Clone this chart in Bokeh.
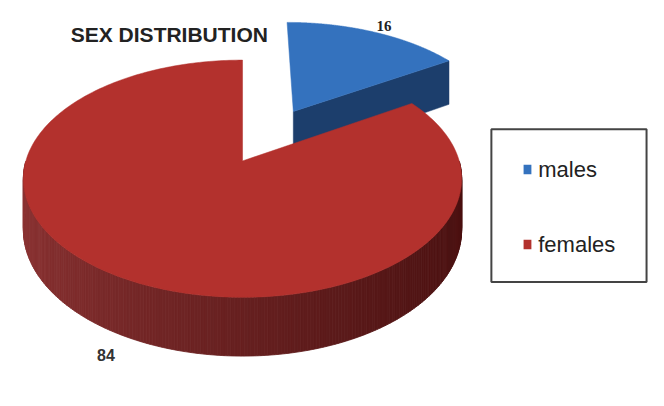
import numpy as np
from bokeh.plotting import figure
from bokeh.models import Range1d
from bokeh.embed import file_html
from bokeh.resources import INLINE
from bokeh.core.properties import value

# ---- data ----
categories = ["males", "females"]
values = [16, 84]
top_colors = ["#3472BE", "#B3312D"]
side_colors = ["#1C3E6C", "#801E1D"]
explode = [0.52, 0.0]
title_text = "SEX DISTRIBUTION"

# ---- 3D pie geometry (screen-like coordinates, y down) ----
CX, CY = 248.0, 167.0
R = 222.0
RC = 120.7
K = 0.15
H = 52.0


def proj(X, Y, z):
    X = np.asarray(X, dtype=float)
    Y = np.asarray(Y, dtype=float)
    w = 1.0 / (1.0 + K * Y)
    return CX + R * X * w, CY - RC * Y * w + H * z * w


def mix(c1, c2, t):
    a = [int(c1[i:i + 2], 16) for i in (1, 3, 5)]
    b = [int(c2[i:i + 2], 16) for i in (1, 3, 5)]
    return "#%02x%02x%02x" % tuple(int(round(a[k] + (b[k] - a[k]) * t)) for k in range(3))


p = figure(width=648, height=390, output_backend="svg", toolbar_location=None,
           x_range=Range1d(0, 664), y_range=Range1d(406, 0), min_border=0)
p.axis.visible = False
p.grid.visible = False
p.outline_line_color = None

total = float(sum(values))
slices = []
start = 90.0
for i, v in enumerate(values):
    sweep = 360.0 * v / total
    a0, a1 = start, start - sweep
    mid = np.radians((a0 + a1) / 2)
    ox, oy = explode[i] * np.cos(mid), explode[i] * np.sin(mid)
    slices.append(dict(i=i, a0=a0, a1=a1, ox=ox, oy=oy, depth=np.sin(mid)))
    start = a1

# draw back slices first
for s in sorted(slices, key=lambda d: -d["depth"]):
    i, a0, a1, ox, oy = s["i"], s["a0"], s["a1"], s["ox"], s["oy"]
    # radial cut faces
    for ang, sign in ((a1, 1), (a0, -1)):
        r = np.radians(ang)
        if sign * np.cos(r) > 0.01:
            Xs = [ox, ox + np.cos(r), ox + np.cos(r), ox]
            Ys = [oy, oy + np.sin(r), oy + np.sin(r), oy]
            zs = [0, 0, 1, 1]
            px, py = zip(*[proj(X, Y, z) for X, Y, z in zip(Xs, Ys, zs)])
            p.patch([float(a) for a in px], [float(b) for b in py],
                    fill_color=side_colors[i], line_color=side_colors[i], line_width=0.5)
    # outer rim (front-facing part) as shaded strips
    th = np.linspace(a0, a1, 400)
    xs_l, ys_l, cols = [], [], []
    for k in range(len(th) - 1):
        t0, t1 = np.radians(th[k]), np.radians(th[k + 1])
        if np.sin((t0 + t1) / 2) >= 0:
            continue
        X = np.array([np.cos(t0), np.cos(t1), np.cos(t1), np.cos(t0)]) + ox
        Y = np.array([np.sin(t0), np.sin(t1), np.sin(t1), np.sin(t0)]) + oy
        Z = np.array([0, 0, 1, 1])
        px, py = proj(X, Y, Z)
        xs_l.append(list(px))
        ys_l.append(list(py))
        c = np.cos((t0 + t1) / 2)  # -1 left .. +1 right
        tt = (c + 1) / 2
        base = side_colors[i]
        cols.append(mix(mix(base, "#FFFFFF", 0.1), mix(base, "#000000", 0.42), tt ** 0.8))
    if xs_l:
        p.patches(xs_l, ys_l, fill_color=cols, line_color=cols, line_width=0.8)
    # top face
    th = np.radians(np.linspace(a0, a1, 300))
    X = np.concatenate([[ox], ox + np.cos(th), [ox]])
    Y = np.concatenate([[oy], oy + np.sin(th), [oy]])
    px, py = proj(X, Y, 0)
    p.patch(list(px), list(py), fill_color=top_colors[i], line_color=top_colors[i], line_width=0.5)

# value labels
p.text(x=[393], y=[27], text=[str(values[0])], text_font=value("Liberation Serif"),
       text_font_style="bold", text_font_size="15px", text_color="#222222",
       text_align="center", text_baseline="middle")
p.text(x=[108], y=[369], text=[str(values[1])], text_font=value("Liberation Sans"),
       text_font_style="bold", text_font_size="16px", text_color="#333333",
       text_align="center", text_baseline="middle")

# title
p.text(x=[72], y=[35], text=[title_text], text_font=value("Liberation Sans"),
       text_font_style="bold", text_font_size="21px", text_color="#222222",
       text_align="left", text_baseline="middle")

# legend box
p.quad(left=[503], right=[662], top=[134], bottom=[293], fill_color="white",
       line_color="#444444", line_width=2)
leg_y = [176, 254]
p.rect(x=[540, 540], y=leg_y, width=8, height=10, fill_color=top_colors,
       line_color=None)
p.text(x=[551, 551], y=leg_y, text=categories, text_font=value("Liberation Sans"),
       text_font_size="22px", text_color="#222222", text_align="left",
       text_baseline="middle")

open("out.html", "w").write(file_html(p, INLINE))
